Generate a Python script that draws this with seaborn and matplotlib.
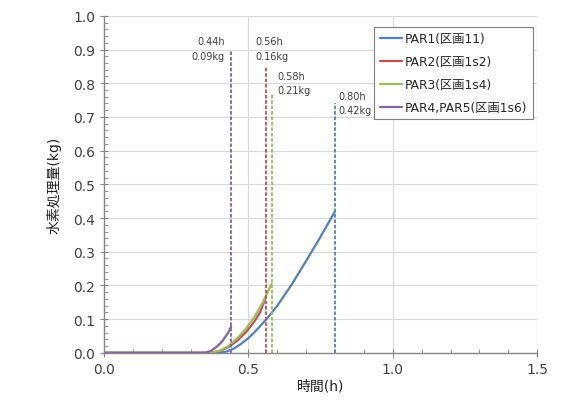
import numpy as np
import pandas as pd
import seaborn as sns
import matplotlib.pyplot as plt
from matplotlib.ticker import MultipleLocator

# series (time h, hydrogen kg)
par1_t = [0.0, 0.40, 0.425, 0.45, 0.475, 0.50, 0.525, 0.55, 0.575, 0.60, 0.65, 0.70, 0.75, 0.80]
par1_kg = [0.0, 0.0, 0.004, 0.013, 0.027, 0.044, 0.065, 0.088, 0.113, 0.14, 0.203, 0.273, 0.345, 0.42]
par2_t = [0.0, 0.37, 0.40, 0.43, 0.46, 0.49, 0.52, 0.54, 0.56]
par2_kg = [0.0, 0.0, 0.005, 0.017, 0.035, 0.06, 0.092, 0.12, 0.165]
par3_t = [0.0, 0.37, 0.40, 0.43, 0.46, 0.49, 0.52, 0.55, 0.58]
par3_kg = [0.0, 0.0, 0.006, 0.02, 0.042, 0.07, 0.105, 0.15, 0.205]
par4_t = [0.0, 0.35, 0.37, 0.39, 0.41, 0.43, 0.44]
par4_kg = [0.0, 0.0, 0.006, 0.018, 0.035, 0.06, 0.078]

labels = ['PAR1(区画11)', 'PAR2(区画1s2)', 'PAR3(区画1s4)', 'PAR4,PAR5(区画1s6)']
colors = ['#4F81BD', '#C0504D', '#9BBB59', '#8064A2']

# end-of-burn markers
end_time = [0.80, 0.56, 0.58, 0.44]
end_kg = [0.42, 0.16, 0.21, 0.09]
marker_top = [0.74, 0.85, 0.77, 0.90]

sns.set_style('whitegrid')
plt.rcParams['font.family'] = ['DejaVu Sans', 'Noto Sans CJK JP']

fig = plt.figure(figsize=(5.66, 4.10), dpi=100)
ax = fig.add_axes([0.184, 0.137, 0.765, 0.822])

series = [(par1_t, par1_kg), (par2_t, par2_kg), (par3_t, par3_kg), (par4_t, par4_kg)]
for (t, kg), lab, c in zip(series, labels, colors):
    sns.lineplot(x=t, y=kg, ax=ax, color=c, linewidth=1.6, label=lab)

ax.vlines(end_time, 0, marker_top, colors=colors, linestyles=(0, (2, 1)), linewidth=1.3)

# annotation text positions (x, y of upper line, alignment)
txt_pos = [(0.81, 0.763, 'left'), (0.525, 0.925, 'left'), (0.60, 0.822, 'left'), (0.418, 0.925, 'right')]
for t, kg, (tx, ty, ha) in zip(end_time, end_kg, txt_pos):
    ax.text(tx, ty, f'{t:.2f}h', ha=ha, va='center', fontsize=7, color='#404040')
    ax.text(tx, ty - 0.043, f'{kg:.2f}kg', ha=ha, va='center', fontsize=7, color='#404040')

ax.set_xlim(0, 1.5)
ax.set_ylim(0, 1.0)
ax.xaxis.set_major_locator(MultipleLocator(0.5))
ax.xaxis.set_minor_locator(MultipleLocator(0.1))
ax.yaxis.set_major_locator(MultipleLocator(0.1))
ax.yaxis.set_minor_locator(MultipleLocator(0.02))
ax.xaxis.set_major_formatter(plt.FormatStrFormatter('%.1f'))
ax.yaxis.set_major_formatter(plt.FormatStrFormatter('%.1f'))
ax.grid(True, which='major', color='#d9d9d9', linewidth=0.8)
ax.grid(False, which='minor')
for s in ['top', 'right']:
    ax.spines[s].set_visible(False)
for s in ['left', 'bottom']:
    ax.spines[s].set_color('#868686')
    ax.spines[s].set_linewidth(1.0)
ax.tick_params(axis='both', which='major', direction='inout', length=6, width=0.8,
               color='#868686', labelsize=10, labelcolor='#404040', bottom=True, left=True)
ax.tick_params(axis='both', which='minor', direction='in', length=3, width=0.6,
               color='#868686', bottom=True, left=True)
ax.set_xlabel('時間(h)', fontsize=10, color='#202020', labelpad=2)
ax.set_ylabel('水素処理量(kg)', fontsize=10, color='#202020', labelpad=8)

leg = ax.legend(loc='upper right', bbox_to_anchor=(1.005, 0.985), fontsize=8.8, frameon=True,
                fancybox=False, edgecolor='#7f7f7f', framealpha=1, handlelength=1.8,
                handletextpad=0.3, labelspacing=0.8, borderpad=0.45)
leg.get_frame().set_linewidth(0.8)

fig.savefig('out.png', dpi=100)
